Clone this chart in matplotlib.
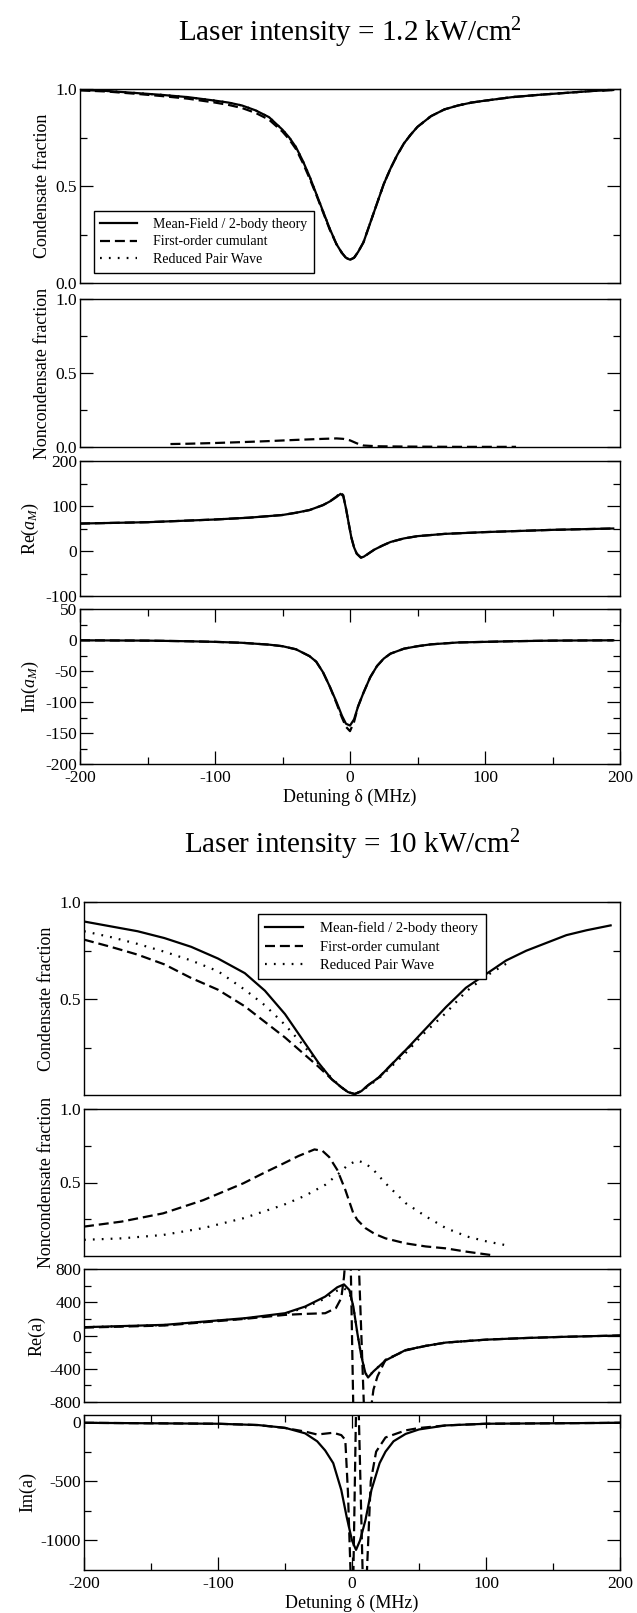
import numpy as np
import matplotlib
matplotlib.use("Agg")
import matplotlib.pyplot as plt
from matplotlib.ticker import FixedLocator, FixedFormatter

plt.rcParams['font.family'] = ['Liberation Serif', 'DejaVu Serif']
plt.rcParams['mathtext.fontset'] = 'custom'
plt.rcParams['mathtext.rm'] = 'Liberation Serif'
plt.rcParams['mathtext.it'] = 'Liberation Serif:italic'
plt.rcParams['axes.unicode_minus'] = False

# ---------------- Data: top group (1.2 kW/cm^2) ----------------
d1 = [-200, -180, -160, -140, -120, -100, -90, -80, -70, -60, -50, -45, -40, -35, -30, -25, -20, -15, -10, -6,
      -3, 0, 3, 6, 10, 15, 20, 25, 30, 35, 40, 45, 50, 60, 70, 80, 90, 100, 120, 140, 160, 180, 195]
cond1_mf = [0.995, 0.99, 0.98, 0.97, 0.958, 0.94, 0.93, 0.915, 0.89, 0.855, 0.79, 0.75, 0.70, 0.63, 0.55,
            0.46, 0.37, 0.28, 0.20, 0.155, 0.13, 0.12, 0.13, 0.16, 0.21, 0.31, 0.41, 0.51, 0.59, 0.66,
            0.72, 0.765, 0.805, 0.86, 0.895, 0.915, 0.93, 0.94, 0.958, 0.97, 0.98, 0.99, 0.995]
cond1_foc = [0.993, 0.987, 0.976, 0.964, 0.95, 0.93, 0.918, 0.902, 0.877, 0.842, 0.78, 0.74, 0.69, 0.62, 0.54,
             0.455, 0.365, 0.275, 0.20, 0.155, 0.13, 0.12, 0.13, 0.16, 0.21, 0.31, 0.41, 0.51, 0.59, 0.66,
             0.72, 0.765, 0.805, 0.86, 0.895, 0.915, 0.93, 0.94, 0.958, 0.97, 0.98, 0.99, 0.995]
cond1_rpw = cond1_mf

d2 = [-133, -120, -100, -80, -60, -40, -20, -10, -5, 0, 5, 10, 20, 40, 60, 80, 100, 123]
non1_foc = [0.02, 0.022, 0.027, 0.033, 0.04, 0.048, 0.055, 0.058, 0.055, 0.045, 0.025, 0.01, 0.005,
            0.003, 0.002, 0.001, 0.001, 0.001]

d3 = [-200, -150, -100, -75, -50, -40, -30, -20, -15, -10, -7, -5, -3, -1, 1, 3, 5, 8, 10, 14, 18, 24, 30,
      40, 50, 70, 100, 150, 195]
re1_mf = [61, 64, 70, 74, 80, 85, 91, 102, 110, 120, 127, 122, 95, 62, 30, 8, -6, -14, -13, -5, 3, 12, 20,
          28, 33, 38, 42, 47, 50]
re1_foc = [61, 64, 70, 74, 80, 85, 91, 102, 110, 121, 130, 124, 95, 62, 30, 8, -6, -15, -14, -5, 3, 12, 20,
           28, 33, 38, 42, 47, 50]

d4 = [-200, -150, -120, -100, -80, -60, -50, -40, -30, -25, -20, -15, -10, -6, -3, 0, 3, 6, 10, 15, 20, 25,
      30, 40, 50, 60, 80, 100, 120, 150, 195]
im1_mf = [-0.5, -1, -2, -3, -4.5, -7.5, -10, -15, -26, -35, -52, -75, -100, -122, -135, -138, -128, -107,
          -85, -60, -42, -30, -22, -14, -10, -7, -4, -3, -2, -1, -0.5]
im1_foc = [-0.5, -1, -2, -3, -4.5, -7.5, -10, -15, -26, -35, -52, -75, -102, -125, -140, -147, -132, -107,
           -85, -60, -42, -30, -22, -14, -10, -7, -4, -3, -2, -1, -0.5]

# ---------------- Data: bottom group (10 kW/cm^2) ----------------
d5 = [-200, -180, -160, -140, -120, -100, -80, -65, -50, -35, -25, -15, -8, -3, 2, 7, 12, 20, 30, 40, 55, 70,
      85, 100, 115, 130, 145, 160, 175, 193]
cond2_mf = [0.90, 0.875, 0.85, 0.815, 0.77, 0.71, 0.635, 0.545, 0.425, 0.275, 0.175, 0.09, 0.05, 0.025, 0.015,
            0.03, 0.06, 0.10, 0.17, 0.24, 0.35, 0.46, 0.56, 0.63, 0.70, 0.75, 0.79, 0.83, 0.855, 0.88]
d5f = [-200, -180, -160, -140, -120, -100, -80, -65, -50, -35, -25, -15, -8, -3, 2, 7, 12, 20, 30, 40, 45]
cond2_foc = [0.807, 0.77, 0.73, 0.68, 0.61, 0.55, 0.465, 0.385, 0.305, 0.215, 0.155, 0.09, 0.05, 0.025, 0.015,
             0.03, 0.06, 0.10, 0.17, 0.24, 0.27]
d5r = [-200, -180, -160, -140, -120, -100, -80, -65, -50, -35, -25, -15, -8, -3, 2, 7, 12, 20, 30, 40, 55, 70,
       85, 100, 119]
cond2_rpw = [0.85, 0.82, 0.785, 0.745, 0.70, 0.645, 0.55, 0.47, 0.37, 0.255, 0.17, 0.095, 0.05, 0.025, 0.015,
             0.03, 0.055, 0.095, 0.16, 0.225, 0.335, 0.43, 0.54, 0.62, 0.70]

d6f = [-200, -172, -141, -111, -81, -66, -51, -40, -32, -28, -22, -17, -11, -5, 1, 4, 10, 17, 25, 40, 55, 70,
       85, 105]
non2_foc = [0.20, 0.234, 0.29, 0.38, 0.495, 0.564, 0.63, 0.68, 0.71, 0.725, 0.715, 0.673, 0.586, 0.45, 0.29,
            0.245, 0.19, 0.15, 0.12, 0.086, 0.065, 0.052, 0.03, 0.005]
d6r = [-200, -172, -141, -111, -81, -51, -35, -20, -10, -3, 4, 10, 16, 25, 40, 55, 70, 86, 101, 118]
non2_rpw = [0.11, 0.12, 0.143, 0.19, 0.257, 0.348, 0.41, 0.484, 0.56, 0.62, 0.65, 0.63, 0.586, 0.495, 0.36,
            0.27, 0.19, 0.132, 0.098, 0.068]

d7 = [-200, -140, -110, -80, -50, -35, -20, -11, -6, -2, 1, 4, 7, 10, 12, 16, 25, 40, 55, 70, 100, 130, 160, 200]
re2_mf = [100, 128, 168, 208, 268, 348, 468, 580, 615, 548, 348, 28, -252, -452, -505, -432, -300, -175, -125,
          -85, -50, -30, -15, 0]
d7f = [-200, -140, -110, -80, -50, -35, -20, -12, -8, -6, -5, np.nan, -1, 1, np.nan, 5, 9, np.nan, 14, 16, 19,
       25, 40, 55, 70, 100, 130, 160, 200]
re2_foc = [95, 120, 160, 200, 248, 260, 268, 330, 450, 700, 900, np.nan, 900, -900, np.nan, 900, -900, np.nan,
           -900, -652, -492, -292, -180, -125, -85, -50, -30, -15, 0]
d7r = [-200, -140, -110, -80, -50, -35, -20, -11, -6, -2, 1, 4, 7, 10, 12, 16, 25, 40, 55, 70, 100]
re2_rpw = [100, 126, 165, 205, 262, 335, 445, 540, 568, 520, 340, 28, -252, -452, -500, -430, -300, -175,
           -125, -85, -50]

d8 = [-200, -100, -70, -50, -35, -26, -20, -14, -8, -4, 0, 3, 6, 10, 14.5, 20.6, 25, 31, 40, 50, 70, 100, 200]
im2_mf = [-6, -14, -25, -48, -95, -162, -240, -347, -574, -800, -1000, -1080, -1000, -830, -574, -347, -250,
          -162, -100, -62, -28, -14, -6]
d8f = [-200, -100, -70, -50, -35, -26, -14, -8, -5, -3, -1, np.nan, 1, 3, np.nan, 5, 8, np.nan, 11, 14, 18, 25,
       40, 50, 70, 100, 200]
im2_foc = [-6, -14, -25, -50, -80, -105, -90, -110, -150, -600, -1300, np.nan, -1300, 100, np.nan, 100, -1300,
           np.nan, -1300, -500, -250, -130, -70, -50, -28, -14, -6]

titles = ["Laser intensity = 1.2 kW/cm$^2$", "Laser intensity = 10 kW/cm$^2$"]
legend_top = ["Mean-Field / 2-body theory", "First-order cumulant", "Reduced Pair Wave"]
legend_bot = ["Mean-field / 2-body theory", "First-order cumulant", "Reduced Pair Wave"]
xlabel = "Detuning δ (MHz)"

# ---------------- Layout ----------------
W, H = 637, 1613
fig = plt.figure(figsize=(W / 100, H / 100), dpi=100)


def add_ax(x0, x1, y0, y1):
    return fig.add_axes([x0 / W, 1 - y1 / H, (x1 - x0) / W, (y1 - y0) / H])


LW = 1.6
DASH = (0, (4.5, 2.2))
DOT = (0, (0.8, 3.2))
TICKFS = 12.5
LABFS = 13


def style(ax, ylim, major, minor, labels, bottom_panel=False):
    ax.set_xlim(-200, 200)
    ax.set_ylim(*ylim)
    ax.yaxis.set_major_locator(FixedLocator(major))
    ax.yaxis.set_major_formatter(FixedFormatter(labels))
    ax.yaxis.set_minor_locator(FixedLocator(minor))
    ax.tick_params(which='both', direction='in', left=True, right=True, labelsize=TICKFS, width=0.9)
    ax.tick_params(which='major', length=9.5)
    ax.tick_params(which='minor', length=5)
    if bottom_panel:
        ax.xaxis.set_major_locator(FixedLocator([-200, -100, 0, 100, 200]))
        ax.xaxis.set_major_formatter(FixedFormatter(["-200", "-100", "0", "100", "200"]))
        ax.xaxis.set_minor_locator(FixedLocator([-150, -50, 50, 150]))
        ax.tick_params(axis='x', which='both', top=True, bottom=True, labelbottom=True, pad=4.5)
        ax.set_xlabel(xlabel, fontsize=LABFS, labelpad=2)
    else:
        ax.tick_params(axis='x', which='both', top=False, bottom=False, labelbottom=False)
    ax.tick_params(axis='y', pad=2)
    for s in ax.spines.values():
        s.set_linewidth(1.0)


def make_legend(ax, labels, anchor, loc, fs):
    h, l = ax.get_legend_handles_labels()
    leg = ax.legend(h[::-1], labels, loc=loc, bbox_to_anchor=anchor, fontsize=fs,
                    frameon=True, fancybox=False, edgecolor='k', handlelength=2.6, labelspacing=0.35,
                    borderpad=0.5, handletextpad=1.2, borderaxespad=0, framealpha=1)
    leg.get_frame().set_linewidth(1.0)


# ---- top group ----
a1 = add_ax(80, 620, 89, 283)
a1.plot(d1, cond1_rpw, color='k', lw=LW, ls=DOT, label=legend_top[2])
a1.plot(d1, cond1_foc, color='k', lw=LW, ls=DASH, label=legend_top[1])
a1.plot(d1, cond1_mf, color='k', lw=LW, ls='-', label=legend_top[0])
style(a1, (0, 1.0), [0, 0.5, 1.0], [0.25, 0.75], ["0.0", "0.5", "1.0"])
a1.set_ylabel("Condensate fraction", fontsize=LABFS, labelpad=3)
make_legend(a1, legend_top, (0.025, 0.05), 'lower left', 10)

a2 = add_ax(80, 620, 299, 447)
a2.plot(d2, non1_foc, color='k', lw=LW, ls=DASH)
style(a2, (0, 1.0), [0, 0.5, 1.0], [0.25, 0.75], ["0.0", "0.5", "1.0"])
a2.set_ylabel("Noncondensate fraction", fontsize=LABFS, labelpad=3)

a3 = add_ax(80, 620, 461, 596)
a3.plot(d3, re1_foc, color='k', lw=LW, ls=DASH)
a3.plot(d3, re1_mf, color='k', lw=LW, ls='-')
style(a3, (-100, 200), [-100, 0, 100, 200], [-50, 50, 150], ["-100", "0", "100", "200"])
a3.set_ylabel("Re($a_M$)", fontsize=LABFS, labelpad=3)

a4 = add_ax(80, 620, 609, 764)
a4.plot(d4, im1_foc, color='k', lw=LW, ls=DASH)
a4.plot(d4, im1_mf, color='k', lw=LW, ls='-')
style(a4, (-200, 50), [-200, -150, -100, -50, 0, 50], [-175, -125, -75, -25, 25],
      ["-200", "-150", "-100", "-50", "0", "50"], bottom_panel=True)
a4.set_ylabel("Im($a_M$)", fontsize=LABFS, labelpad=3)

fig.text(350 / W, 1 - 33 / H, titles[0], ha='center', va='center', fontsize=21)

# ---- bottom group ----
a5 = add_ax(84, 620, 902, 1095)
a5.plot(d5r, cond2_rpw, color='k', lw=LW, ls=DOT, label=legend_bot[2])
a5.plot(d5f, cond2_foc, color='k', lw=LW, ls=DASH, label=legend_bot[1])
a5.plot(d5, cond2_mf, color='k', lw=LW, ls='-', label=legend_bot[0])
style(a5, (0.01, 1.0), [0.5, 1.0], [0.25, 0.75], ["0.5", "1.0"])
a5.set_ylabel("Condensate fraction", fontsize=LABFS, labelpad=3)
make_legend(a5, legend_bot, (0.324, 0.936), 'upper left', 10.5)

a6 = add_ax(84, 620, 1109, 1256)
a6.plot(d6r, non2_rpw, color='k', lw=LW, ls=DOT)
a6.plot(d6f, non2_foc, color='k', lw=LW, ls=DASH)
style(a6, (0, 1.0), [0.5, 1.0], [0.25, 0.75], ["0.5", "1.0"])
a6.set_ylabel("Noncondensate fraction", fontsize=LABFS, labelpad=3)

a7 = add_ax(84, 620, 1269, 1402)
a7.plot(d7r, re2_rpw, color='k', lw=LW, ls=DOT)
a7.plot(d7f, re2_foc, color='k', lw=LW, ls=DASH)
a7.plot(d7, re2_mf, color='k', lw=LW, ls='-')
style(a7, (-800, 800), [-800, -400, 0, 400, 800], [-600, -200, 200, 600],
      ["-800", "-400", "0", "400", "800"])
a7.set_ylabel("Re(a)", fontsize=LABFS, labelpad=3)

a8 = add_ax(84, 620, 1415, 1570)
a8.plot(d8f, im2_foc, color='k', lw=LW, ls=DASH)
a8.plot(d8, im2_mf, color='k', lw=LW, ls='-')
style(a8, (-1250, 60), [-1000, -500, 0], [-750, -250], ["-1000", "-500", "0"], bottom_panel=True)
a8.set_ylabel("Im(a)", fontsize=LABFS, labelpad=3)

fig.text(352 / W, 1 - 845 / H, titles[1], ha='center', va='center', fontsize=21)

fig.savefig("out.png", dpi=100)
